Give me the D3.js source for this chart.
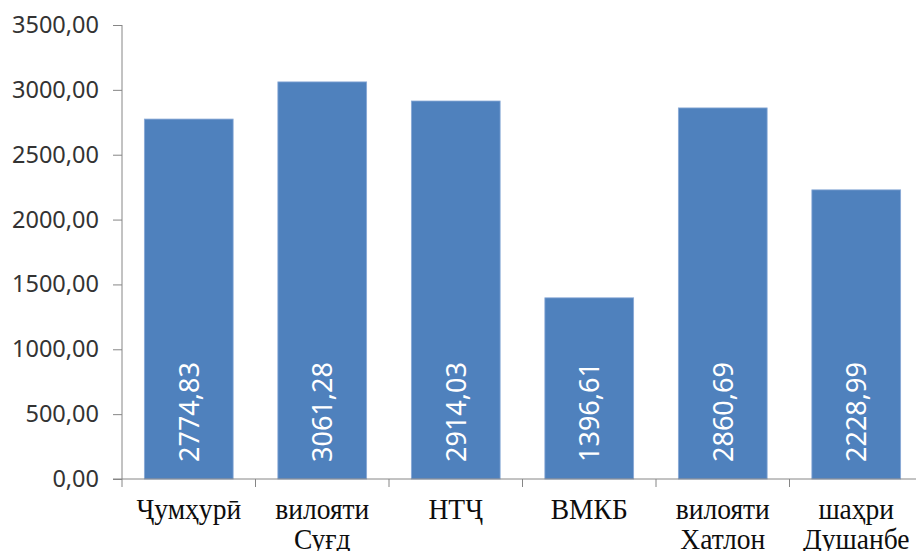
<!DOCTYPE html>
<html>
<head>
<meta charset="utf-8">
<script src="https://cdn.jsdelivr.net/npm/d3@7"></script>
<style>
  html, body { margin: 0; padding: 0; background: #fff; }
  svg { display: block; }
</style>
</head>
<body>
<svg id="chart" width="916" height="551"></svg>
<script>
// Regions (two-line labels split with "|")
const categories = ["Ҷумҳурӣ", "вилояти|Суғд", "НТҶ", "ВМКБ", "вилояти|Хатлон", "шаҳри|Душанбе"];
const values = [2774.83, 3061.28, 2914.03, 1396.61, 2860.69, 2228.99];
const yTicks = [0, 500, 1000, 1500, 2000, 2500, 3000, 3500];

const fmt = v => v.toFixed(2).replace(".", ",");

const svg = d3.select("#chart");
const plot = { left: 122, top: 25, bottom: 479, bandWidth: 133.5 };

const x = d3.scaleBand()
  .domain(categories)
  .range([plot.left, plot.left + plot.bandWidth * categories.length])
  .paddingInner(0.335)
  .paddingOuter(0.1675);

const y = d3.scaleLinear().domain([0, 3500]).range([plot.bottom, plot.top]);

const axisColor = "#868686";

// Bars
svg.append("g").selectAll("rect")
  .data(values)
  .join("rect")
  .attr("x", (d, i) => x(categories[i]))
  .attr("y", d => y(d))
  .attr("width", x.bandwidth())
  .attr("height", d => y(0) - y(d))
  .attr("fill", "#4F81BD")
  .attr("stroke", "#89a9d6")
  .attr("stroke-width", 0.8);

// Y axis
const yAxis = svg.append("g")
  .attr("transform", `translate(${plot.left},0)`)
  .call(d3.axisLeft(y).tickValues(yTicks).tickFormat(fmt).tickSize(9).tickPadding(14));
yAxis.select(".domain").attr("stroke", axisColor).attr("d", `M0,${plot.top}V${plot.bottom}`);
yAxis.selectAll(".tick line").attr("stroke", axisColor);
yAxis.selectAll(".tick text")
  .attr("fill", "#333")
  .style("font-family", "'Noto Sans', sans-serif")
  .style("font-size", "23.5px");

// X axis with ticks between categories
const xAxis = svg.append("g").attr("transform", `translate(0,${plot.bottom})`);
xAxis.append("line")
  .attr("x1", plot.left - 9).attr("x2", 916)
  .attr("stroke", axisColor);
const boundaries = d3.range(categories.length + 1).map(i => plot.left + i * plot.bandWidth);
xAxis.selectAll("line.tk")
  .data(boundaries)
  .join("line")
  .attr("class", "tk")
  .attr("x1", d => d).attr("x2", d => d)
  .attr("y1", 0).attr("y2", 8)
  .attr("stroke", axisColor);

// Category labels
const catLabels = svg.append("g").selectAll("text")
  .data(categories)
  .join("text")
  .attr("transform", d => `translate(${x(d) + x.bandwidth() / 2},519) scale(0.95,1)`)
  .attr("text-anchor", "middle")
  .attr("fill", "#0d0d0d")
  .style("font-family", "'Liberation Serif', 'Times New Roman', serif")
  .style("font-size", "29px");
catLabels.selectAll("tspan")
  .data(d => d.split("|"))
  .join("tspan")
  .attr("x", 0)
  .attr("dy", (d, i) => i === 0 ? 0 : 30)
  .text(d => d);

// Value labels inside bars, rotated
svg.append("g").selectAll("text")
  .data(values)
  .join("text")
  .attr("transform", (d, i) => `translate(${x(categories[i]) + x.bandwidth() / 2 + 10},${plot.bottom - 17}) rotate(-90)`)
  .attr("text-anchor", "start")
  .attr("fill", "#fff")
  .style("font-family", "'Noto Sans', sans-serif")
  .style("font-size", "27px")
  .text(fmt);
</script>
</body>
</html>
